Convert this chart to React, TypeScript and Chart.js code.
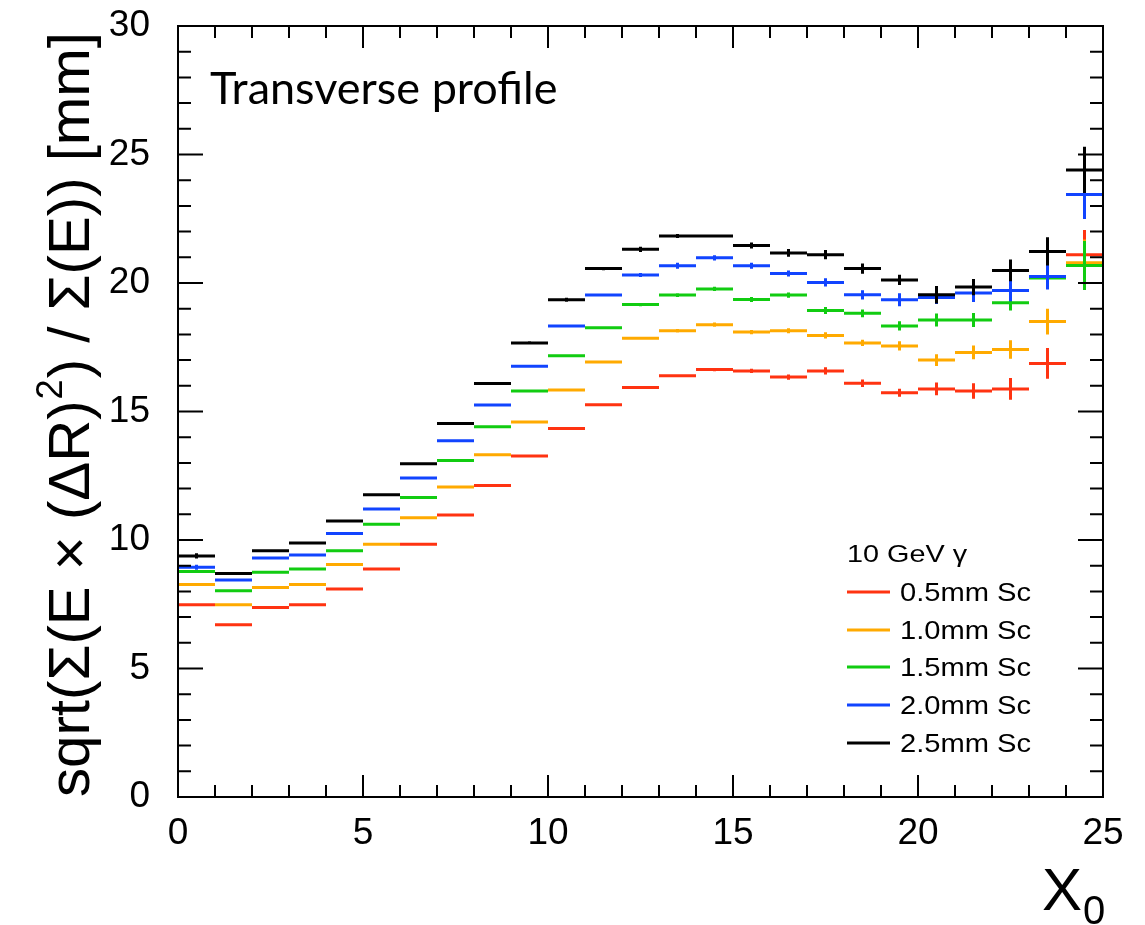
import React, { useEffect, useRef } from "react";
import { Chart, registerables } from "chart.js";

Chart.register(...registerables);

// Bin edges along the shower depth (radiation lengths)
const binEdges = [0, 1, 2, 3, 4, 5, 6, 7, 8, 9, 10, 11, 12, 13, 14, 15, 16, 17, 18, 19, 20, 21, 22, 23, 24, 25];

const seriesLabels = ["0.5mm Sc", "1.0mm Sc", "1.5mm Sc", "2.0mm Sc", "2.5mm Sc"];
const seriesColors = ["#ff3311", "#ffaa00", "#11cc11", "#1144ff", "#000000"];

// Energy-weighted RMS radius per depth bin [mm]
const sc05 = [7.48, 6.70, 7.37, 7.48, 8.09, 8.87, 9.83, 10.97, 12.12, 13.27, 14.34, 15.26, 15.93, 16.39, 16.63, 16.58, 16.34, 16.58, 16.10, 15.73, 15.88, 15.80, 15.88, 16.87, 21.10];
const sc10 = [8.27, 7.48, 8.15, 8.27, 9.05, 9.83, 10.87, 12.06, 13.32, 14.59, 15.84, 16.93, 17.85, 18.14, 18.38, 18.09, 18.14, 17.96, 17.67, 17.55, 17.00, 17.30, 17.41, 18.50, 20.79];
const sc15 = [8.77, 8.03, 8.75, 8.87, 9.58, 10.61, 11.65, 13.09, 14.41, 15.80, 17.17, 18.26, 19.16, 19.53, 19.77, 19.36, 19.53, 18.93, 18.82, 18.33, 18.56, 18.56, 19.23, 20.19, 20.68];
const sc20 = [8.94, 8.44, 9.30, 9.42, 10.25, 11.21, 12.41, 13.86, 15.25, 16.76, 18.33, 19.53, 20.31, 20.67, 20.98, 20.67, 20.37, 20.02, 19.54, 19.35, 19.44, 19.61, 19.71, 20.25, 23.44];
const sc25 = [9.38, 8.70, 9.58, 9.88, 10.74, 11.76, 12.97, 14.53, 16.09, 17.67, 19.35, 20.56, 21.31, 21.83, 21.83, 21.46, 21.17, 21.10, 20.56, 20.12, 19.54, 19.84, 20.49, 21.23, 24.40];

// Statistical uncertainties per bin [mm]
const sc05Err = [0.03, 0.03, 0.03, 0.03, 0.03, 0.03, 0.03, 0.03, 0.03, 0.04, 0.04, 0.04, 0.05, 0.06, 0.06, 0.08, 0.10, 0.14, 0.15, 0.16, 0.25, 0.30, 0.42, 0.60, 0.96];
const sc10Err = [0.03, 0.03, 0.03, 0.03, 0.03, 0.03, 0.03, 0.03, 0.03, 0.04, 0.04, 0.05, 0.06, 0.07, 0.08, 0.08, 0.10, 0.12, 0.12, 0.18, 0.23, 0.27, 0.36, 0.50, 0.90];
const sc15Err = [0.03, 0.03, 0.03, 0.03, 0.03, 0.03, 0.03, 0.03, 0.03, 0.04, 0.04, 0.05, 0.06, 0.07, 0.08, 0.10, 0.10, 0.14, 0.15, 0.18, 0.25, 0.27, 0.30, 0.35, 0.95];
const sc20Err = [0.10, 0.03, 0.03, 0.03, 0.03, 0.03, 0.03, 0.03, 0.03, 0.06, 0.06, 0.06, 0.08, 0.12, 0.10, 0.12, 0.12, 0.16, 0.18, 0.25, 0.26, 0.35, 0.42, 0.50, 0.95];
const sc25Err = [0.10, 0.03, 0.03, 0.03, 0.03, 0.03, 0.03, 0.03, 0.06, 0.06, 0.08, 0.06, 0.10, 0.08, 0.06, 0.12, 0.15, 0.18, 0.20, 0.20, 0.34, 0.32, 0.42, 0.55, 0.90];

const seriesValues = [sc05, sc10, sc15, sc20, sc25];
const seriesErrors = [sc05Err, sc10Err, sc15Err, sc20Err, sc25Err];

const legendHeader = "10 GeV \u03b3";
const plotTitle = "Transverse profile";

const SANS = '"Liberation Sans", Arial, Helvetica, sans-serif';

// Each bin becomes a horizontal segment across its width plus a vertical error bar at its centre.
function histogramPoints(values: number[], errors: number[]) {
  const pts: { x: number; y: number | null }[] = [];
  values.forEach((v, i) => {
    const lo = binEdges[i];
    const hi = binEdges[i + 1];
    const c = (lo + hi) / 2;
    pts.push({ x: lo, y: v }, { x: hi, y: v }, { x: hi, y: null });
    pts.push({ x: c, y: v - errors[i] }, { x: c, y: v + errors[i] }, { x: c, y: null });
  });
  return pts;
}

const framePlugin = {
  id: "rootFrame",
  afterDraw(chart: any) {
    const { ctx, chartArea } = chart;
    const xs = chart.scales.x;
    const ys = chart.scales.y;
    const { left, right, top, bottom } = chartArea;
    ctx.save();

    // frame
    ctx.strokeStyle = "#000";
    ctx.lineWidth = 2;
    ctx.strokeRect(left, top, right - left, bottom - top);

    // inward ticks on all four sides
    ctx.beginPath();
    for (let v = xs.min; v <= xs.max + 1e-9; v += 1) {
      const px = xs.getPixelForValue(v);
      const len = v % 5 === 0 ? 22 : 12;
      ctx.moveTo(px, bottom);
      ctx.lineTo(px, bottom - len);
      ctx.moveTo(px, top);
      ctx.lineTo(px, top + len);
    }
    for (let v = ys.min; v <= ys.max + 1e-9; v += 1) {
      const py = ys.getPixelForValue(v);
      const len = v % 5 === 0 ? 25 : 13;
      ctx.moveTo(left, py);
      ctx.lineTo(left + len, py);
      ctx.moveTo(right, py);
      ctx.lineTo(right - len, py);
    }
    ctx.stroke();

    // plot title inside the frame
    ctx.fillStyle = "#000";
    ctx.textBaseline = "alphabetic";
    ctx.textAlign = "left";
    ctx.font = '45px Lato, "Open Sans", sans-serif';
    ctx.fillText(plotTitle, 210, 104);

    // y-axis title, rotated, with superscript
    const yMain1 = "sqrt(\u03a3(E \u00d7 (\u0394R)";
    const ySup = "2";
    const yMain2 = ") / \u03a3(E)) [mm]";
    const fMain = `58px ${SANS}`;
    const fSup = `36px ${SANS}`;
    ctx.font = fMain;
    const w1 = ctx.measureText(yMain1).width;
    const w2 = ctx.measureText(yMain2).width;
    ctx.font = fSup;
    const ws = ctx.measureText(ySup).width + 2;
    const total = w1 + ws + w2;
    const targetLen = 765;
    const sx = targetLen / total;
    ctx.save();
    ctx.translate(89, (top + bottom) / 2 + 3);
    ctx.rotate(-Math.PI / 2);
    ctx.scale(sx, 1);
    ctx.textAlign = "left";
    let cx = -total / 2;
    ctx.font = fMain;
    ctx.fillText(yMain1, cx, 0);
    cx += w1;
    ctx.font = fSup;
    ctx.fillText(ySup, cx + 1, -27);
    cx += ws;
    ctx.font = fMain;
    ctx.fillText(yMain2, cx, 0);
    ctx.restore();

    // x-axis title X0
    ctx.font = `60px ${SANS}`;
    ctx.fillText("X", 1042, 910);
    ctx.font = `40px ${SANS}`;
    ctx.fillText("0", 1083, 924);

    // legend
    ctx.save();
    ctx.translate(847, 562);
    ctx.scale(1.2, 1);
    ctx.font = `24px ${SANS}`;
    ctx.fillText(legendHeader, 0, 0);
    ctx.restore();
    const rowY = [592, 630, 667, 705, 743];
    chart.data.datasets.forEach((ds: any, i: number) => {
      const y = rowY[i];
      ctx.strokeStyle = ds.borderColor;
      ctx.lineWidth = 3;
      ctx.beginPath();
      ctx.moveTo(847, y);
      ctx.lineTo(890, y);
      ctx.stroke();
      ctx.save();
      ctx.translate(900, y + 9);
      ctx.scale(1.12, 1);
      ctx.fillStyle = "#000";
      ctx.font = `26px ${SANS}`;
      ctx.fillText(ds.label, 0, 0);
      ctx.restore();
    });

    ctx.restore();
  },
};

export default function App() {
  const canvasRef = useRef<HTMLCanvasElement | null>(null);

  useEffect(() => {
    const canvas = canvasRef.current;
    if (!canvas) return;
    const datasets = seriesValues.map((vals, i) => ({
      label: seriesLabels[i],
      data: histogramPoints(vals, seriesErrors[i]),
      borderColor: seriesColors[i],
      backgroundColor: seriesColors[i],
      borderWidth: 3,
      borderCapStyle: "butt" as const,
      pointRadius: 0,
      pointHoverRadius: 0,
      spanGaps: false,
      tension: 0,
      fill: false,
      order: seriesValues.length - i,
    }));

    const chart = new Chart(canvas, {
      type: "line",
      data: { datasets },
      options: {
        responsive: false,
        animation: false,
        devicePixelRatio: 1,
        parsing: true,
        layout: { padding: { top: 26, right: 42, left: 0, bottom: 0 } },
        plugins: {
          legend: { display: false },
          tooltip: { enabled: false },
          title: { display: false },
        },
        scales: {
          x: {
            type: "linear",
            min: 0,
            max: 25,
            grid: { display: false },
            border: { display: false },
            ticks: {
              stepSize: 5,
              color: "#000",
              font: { family: SANS, size: 37 },
              padding: 7,
              maxRotation: 0,
              autoSkip: false,
            },
            afterFit: (s: any) => {
              s.height = 128;
              s.paddingLeft = 0;
              s.paddingRight = 0;
            },
          },
          y: {
            type: "linear",
            min: 0,
            max: 30,
            grid: { display: false },
            border: { display: false },
            ticks: {
              stepSize: 5,
              color: "#000",
              font: { family: SANS, size: 37 },
              padding: 20,
              autoSkip: false,
            },
            afterFit: (s: any) => {
              s.width = 178;
              s.paddingTop = 0;
              s.paddingBottom = 0;
            },
          },
        },
      },
      plugins: [framePlugin],
    });
    return () => chart.destroy();
  }, []);

  return (
    <div style={{ position: "fixed", left: 0, top: 0, width: 1145, height: 925, background: "#fff" }}>
      <canvas ref={canvasRef} width={1145} height={925} style={{ display: "block" }} />
    </div>
  );
}
